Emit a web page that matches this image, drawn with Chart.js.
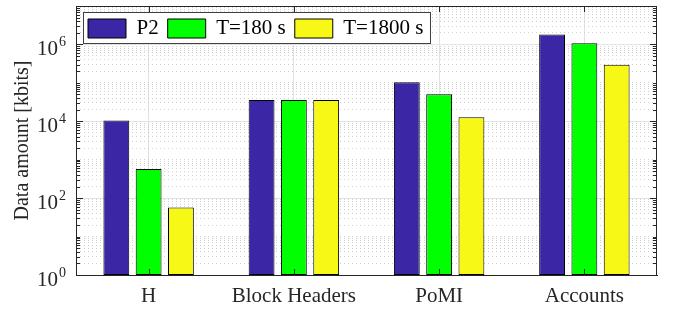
<!DOCTYPE html>
<html>
<head>
<meta charset="utf-8">
<script src="https://cdn.jsdelivr.net/npm/chart.js@4.4.0/dist/chart.umd.min.js"></script>
<style>
  html, body { margin: 0; padding: 0; background: #fff; }
  #wrap { width: 677px; height: 314px; }
</style>
</head>
<body>
<div id="wrap"><canvas id="chart"></canvas></div>
<script>
const categories = ['H', 'Block Headers', 'PoMI', 'Accounts'];
const seriesNames = ['P2', 'T=180 s', 'T=1800 s'];
const p2Values = [10500, 36000, 104000, 1820000];
const t180Values = [570, 36000, 50700, 1080000];
const t1800Values = [57, 36000, 12700, 295000];
const majorTicks = [1, 100, 10000, 1000000];
const tickExponents = ['0', '2', '4', '6'];

// dotted minor grid: 2..9 x 10^n plus the odd decades
const minorTicks = [];
for (let n = 0; n < 7; n++) {
  for (let k = 1; k <= 9; k++) {
    const v = k * Math.pow(10, n);
    if (!majorTicks.includes(v)) minorTicks.push(v);
  }
}

const serif = '"Liberation Serif", "Times New Roman", serif';
const ink = '#262626';

// legend sits inside the plot with a white framed box
const legendInside = {
  id: 'legendInside',
  beforeLayout(chart) {
    const lg = chart.legend;
    if (!lg || lg._patched) return;
    const fit = lg.fit.bind(lg);
    lg.fit = function () { fit(); this.height = 0; };
    const draw = lg.draw.bind(lg);
    lg.draw = function () {
      const a = chart.chartArea;
      this.left = a.left + 3;
      this.top = a.top + 3;
      this.bottom = this.top + 45;
      this.height = 45;
      const pad = this.options.labels.padding;
      const ctx = chart.ctx;
      const x0 = this.left + 4, y0 = this.top + 3;
      const x1 = this.left + this.lineWidths[0] + 7;
      const y1 = this.top + pad + 21 + 4;
      ctx.save();
      ctx.fillStyle = '#fff';
      ctx.strokeStyle = '#404040';
      ctx.lineWidth = 1;
      ctx.fillRect(x0, y0, x1 - x0, y1 - y0);
      ctx.strokeRect(Math.round(x0) + 0.5, Math.round(y0) + 0.5, Math.round(x1 - x0), Math.round(y1 - y0));
      ctx.restore();
      draw();
    };
    lg._patched = true;
  }
};

const boxAndLabels = {
  id: 'boxAndLabels',
  afterDraw(chart) {
    const { ctx, chartArea: a, scales } = chart;
    const y = scales.y, x = scales.x;
    ctx.save();
    ctx.strokeStyle = ink;
    ctx.lineWidth = 1;
    ctx.beginPath();
    ctx.moveTo(a.left, a.top + 0.5); ctx.lineTo(a.right, a.top + 0.5);
    ctx.moveTo(a.right - 0.5, a.top); ctx.lineTo(a.right - 0.5, a.bottom);
    majorTicks.forEach(v => {
      const py = Math.round(y.getPixelForValue(v)) + 0.5;
      ctx.moveTo(a.left, py); ctx.lineTo(a.left + 7, py);
      ctx.moveTo(a.right, py); ctx.lineTo(a.right - 7, py);
    });
    minorTicks.forEach(v => {
      const py = Math.round(y.getPixelForValue(v)) + 0.5;
      ctx.moveTo(a.left, py); ctx.lineTo(a.left + 4, py);
      ctx.moveTo(a.right, py); ctx.lineTo(a.right - 4, py);
    });
    categories.forEach((c, i) => {
      const px = Math.round(x.getPixelForValue(i)) + 0.5;
      ctx.moveTo(px, a.bottom); ctx.lineTo(px, a.bottom - 6);
      ctx.moveTo(px, a.top); ctx.lineTo(px, a.top + 6);
    });
    ctx.stroke();

    ctx.fillStyle = ink;
    ctx.textBaseline = 'alphabetic';
    majorTicks.forEach((v, i) => {
      const py = y.getPixelForValue(v);
      ctx.font = '21px ' + serif;
      ctx.textAlign = 'right';
      ctx.fillText('10', a.left - 18, py + 11);
      ctx.font = '14px ' + serif;
      ctx.textAlign = 'left';
      ctx.fillText(tickExponents[i], a.left - 17, py + 2);
    });
    ctx.restore();
  }
};

new Chart(document.getElementById('chart'), {
  type: 'bar',
  data: {
    labels: categories,
    datasets: [
      { label: seriesNames[0], data: p2Values, backgroundColor: '#3b27a5' },
      { label: seriesNames[1], data: t180Values, backgroundColor: '#00ff00' },
      { label: seriesNames[2], data: t1800Values, backgroundColor: '#f8f816' }
    ].map(d => Object.assign(d, {
      borderColor: '#000',
      borderWidth: 1,
      borderSkipped: false,
      categoryPercentage: 0.667,
      barPercentage: 0.8
    }))
  },
  options: {
    responsive: true,
    maintainAspectRatio: false,
    animation: false,
    devicePixelRatio: 1,
    layout: { padding: { left: 0, right: 20, top: 6, bottom: 0 } },
    plugins: {
      legend: {
        position: 'top',
        align: 'start',
        labels: {
          boxWidth: 38,
          boxHeight: 19,
          padding: 9,
          color: '#000',
          font: { family: serif, size: 21 }
        }
      },
      tooltip: { enabled: false }
    },
    scales: {
      x: {
        grid: { offset: false, color: '#e2e2e2', drawTicks: false },
        border: { color: ink },
        ticks: { color: ink, padding: 9, font: { family: serif, size: 21 } },
        afterFit(s) { s.height = 39; }
      },
      y: {
        type: 'logarithmic',
        min: 1,
        max: 10000000,
        position: 'left',
        afterBuildTicks(s) { s.ticks = majorTicks.map(v => ({ value: v })); },
        grid: { color: '#e2e2e2', drawTicks: false },
        border: { color: ink },
        ticks: { display: false },
        title: {
          display: true,
          text: 'Data amount [kbits]',
          color: ink,
          font: { family: serif, size: 20 },
          padding: { top: 11, bottom: 0 }
        },
        afterFit(s) { s.width = 76; }
      },
      yMinor: {
        type: 'logarithmic',
        min: 1,
        max: 10000000,
        position: 'left',
        afterBuildTicks(s) { s.ticks = minorTicks.map(v => ({ value: v })); },
        grid: { color: '#cfcfcf', drawTicks: false },
        border: { display: false, dash: [1, 3] },
        ticks: { display: false },
        afterFit(s) { s.width = 0; }
      }
    }
  },
  plugins: [legendInside, boxAndLabels]
});
</script>
</body>
</html>
